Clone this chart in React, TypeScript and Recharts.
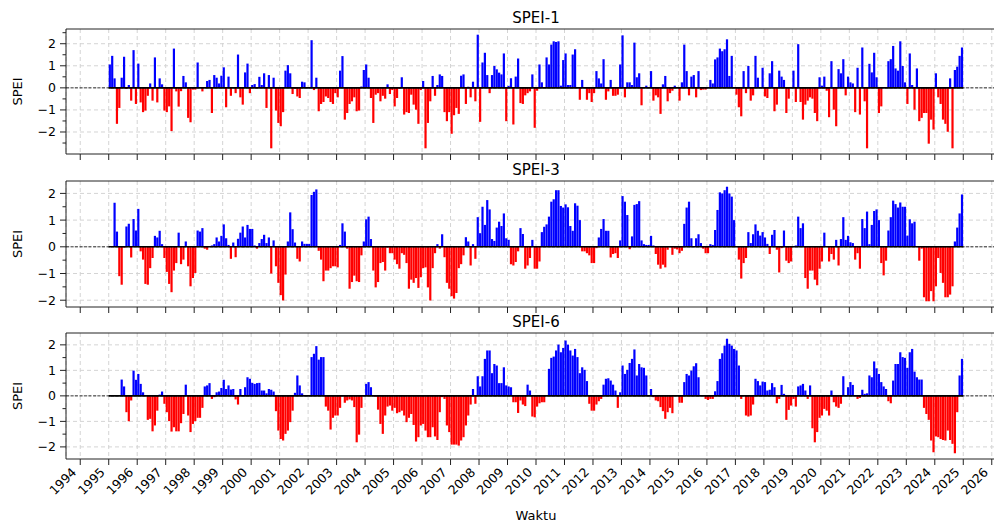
import React from "react";
import { BarChart, Bar, Cell, XAxis, YAxis, CartesianGrid, ReferenceLine, ReferenceArea } from "recharts";

// monthly SPEI values, Jan 1995 .. Dec 2024 (one row per year)
const START_YEAR = 1995;

const spei1: (number | null)[] = [
  1.06, 1.45, 0.43, -1.63, -0.91, 0.46, 1.41, -0.05, 0.13, -0.58, 1.71, -0.73,
  1.1, -0.66, -1.1, -1.03, -0.36, 0.2, -0.58, 1.38, -0.66, 0.43, 0.16, -1.03,
  -1.1, -0.84, -1.96, 1.78, -0.16, -0.85, -0.15, 0.54, 0.25, -1.36, -1.56, -0.08,
  -0.08, 1.15, 0.0, -0.16, 0.02, 0.31, 0.36, -1.14, 0.58, 0.46, 0.2, 0.55,
  0.93, -0.88, 0.51, -0.36, 0.02, -0.24, 1.51, -0.43, -0.76, 0.7, 1.1, -0.24,
  0.13, 0.17, -0.02, 0.5, 0.13, 0.66, -0.91, 0.58, -2.74, 0.46, -1.03, -1.59,
  -1.74, -1.1, 0.78, 1.03, 0.66, -0.28, -0.05, -0.39, -0.46, 0.28, 0.25, 0.02,
  0.03, 2.16, -0.1, 0.46, -1.06, -0.73, -0.64, -0.39, -0.46, -0.64, -0.73, -0.24,
  -0.43, 0.78, 1.44, -1.44, -1.14, -0.73, -0.61, -0.43, -1.06, -1.03, 0.06, 0.81,
  1.06, 0.46, -0.46, -1.59, -0.31, -0.24, -0.61, -0.36, -0.49, 0.16, -0.28, -0.1,
  -0.84, -0.46, -0.05, 0.48, -1.21, -1.1, -1.14, -0.31, -0.76, -0.99, -1.63, -0.1,
  0.31, -2.74, -1.59, -0.61, 0.54, -0.36, 0.13, 0.61, 0.54, -1.1, -1.51, -1.1,
  -2.08, -1.24, -0.91, -1.18, 0.55, 0.61, -0.73, 0.05, -0.43, 0.28, -0.61, 2.41,
  -1.54, 1.15, 1.59, 0.58, -0.24, 0.58, 0.99, 0.84, 0.69, 0.61, 1.56, -1.51,
  0.09, 0.43, -1.66, 0.51, 1.33, -0.69, -0.73, -0.34, -0.24, -0.16, 0.61, -1.81,
  -0.13, 1.06, 0.25, 0.02, 1.38, 1.06, 1.96, 2.11, 2.08, 2.11, 0.1, 1.26,
  1.56, 0.13, 0.13, 1.51, 1.75, 0.02, -0.54, 0.36, 0.02, -0.54, -0.24, -0.64,
  -0.24, 0.76, 0.43, 0.2, 1.3, -0.54, -0.16, 0.36, -0.36, -0.36, -0.31, 1.06,
  2.38, -0.43, 0.25, 0.25, 0.13, 2.05, 0.48, 0.66, -0.79, 0.02, 0.1, 0.02,
  0.76, -0.58, -0.34, -0.43, -1.18, 0.16, 0.54, -0.61, -0.24, -0.13, 0.1, 0.02,
  -0.58, 0.25, 1.96, 0.76, -0.34, 0.51, 0.58, -0.43, 0.76, -0.1, -0.08, -0.08,
  0.02, 0.36, 0.2, 1.29, 1.38, 1.78, 1.66, 1.75, 2.2, 0.54, 1.45, 0.02,
  -0.31, -0.88, -1.29, 0.76, -0.24, 0.99, -0.58, -0.34, 1.45, 0.46, 0.02, 0.91,
  -0.39, -0.46, 0.66, 1.21, -1.06, -0.76, 0.78, 0.51, 0.36, -1.14, -0.49, 0.02,
  0.78, -0.64, 1.98, -0.64, -1.44, -0.76, -0.58, -0.43, -0.49, -1.14, -1.51, 0.48,
  0.1, 0.51, -0.13, -1.33, 1.21, -0.99, -1.74, 0.85, 0.66, 1.3, -0.34, 0.51,
  0.25, 0.2, -1.1, 0.91, -1.21, 1.83, -0.61, -2.74, 1.09, 0.7, 1.59, 0.48,
  -1.14, -0.84, 0.02, 0.02, 1.21, 1.3, 1.9, 0.88, 0.78, 2.11, 0.99, 0.25,
  -0.73, 1.56, 0.13, -0.99, 0.88, -1.51, -1.36, -1.14, -1.14, -2.53, -1.44, -1.89,
  0.66, -0.43, -0.73, -1.44, -1.63, -1.99, 0.43, -2.74, 0.81, 0.96, 1.45, 1.83,
];

const spei3: (number | null)[] = [
  null, null, 1.65, 0.57, -1.1, -1.42, -0.03, 0.76, 0.86, -0.4, 1.04, 0.61,
  1.42, -0.17, -0.48, -1.39, -1.42, -0.8, -0.42, 0.41, 0.35, 0.6, 0.1, -0.42,
  -0.94, -1.39, -1.7, -0.89, -0.61, 0.53, -0.65, -0.48, 0.2, -0.73, -1.48, -1.17,
  -0.98, 0.61, 0.57, 0.7, -0.07, -0.11, 0.03, 0.05, 0.1, 0.35, 0.2, 0.41,
  0.84, 0.32, 0.07, -0.45, 0.16, -0.39, 0.3, 0.53, 0.76, 0.35, 0.82, 0.67,
  0.67, 0.05, -0.07, 0.14, 0.29, 0.45, 0.14, 0.35, -1.0, 0.24, -0.73, -1.35,
  -1.81, -2.01, -1.04, 0.2, 1.29, 0.66, 0.16, -0.45, -0.55, 0.2, 0.11, 0.11,
  0.11, 1.94, 2.06, 2.15, -0.15, -0.48, -1.29, -0.89, -0.89, -0.8, -0.73, -0.73,
  -0.77, 0.07, 0.88, 0.57, -0.07, -1.57, -1.32, -1.08, -1.29, -1.32, -0.32, 0.2,
  1.03, 1.13, 0.29, -0.89, -1.52, -1.32, -0.61, -0.57, -0.89, -0.03, -0.24, -0.24,
  -0.48, -0.65, -0.82, -0.24, -0.3, -0.61, -1.57, -1.23, -1.35, -1.17, -1.54, -1.14,
  -0.8, -0.77, -1.52, -2.01, -0.8, -0.24, 0.1, -0.07, 0.47, -0.39, -1.35, -1.57,
  -1.85, -1.94, -1.73, -0.8, -0.65, -0.32, 0.36, 0.2, -0.7, 0.1, -0.45, 1.11,
  0.51, 1.5, 0.82, 1.75, 1.4, 0.29, 0.22, 0.72, 0.94, 0.78, 1.25, 0.32,
  0.26, -0.65, -0.7, -0.57, -0.17, 0.7, 0.48, -0.82, -0.7, -0.42, 0.26, -0.82,
  -0.82, -0.55, 0.55, 0.75, 0.84, 1.13, 1.69, 1.78, 2.12, 2.12, 1.53, 1.47,
  1.59, 1.48, 0.78, 0.6, 1.63, 1.54, 1.0, -0.17, -0.17, -0.24, -0.32, -0.61,
  -0.61, -0.05, 0.35, 0.67, 1.04, 0.6, 0.6, -0.4, -0.27, -0.24, -0.42, 0.24,
  1.9, 1.69, 1.19, -0.09, 0.39, 1.57, 1.6, 1.71, 0.24, 0.1, 0.07, 0.07,
  0.41, 0.05, -0.27, -0.67, -0.82, -0.67, -0.77, -0.11, 0.03, -0.3, -0.07, -0.1,
  -0.24, -0.15, 0.86, 1.47, 1.69, 0.32, 0.03, 0.32, 0.47, 0.14, -0.07, -0.24,
  -0.24, 0.1, 0.07, 0.63, 1.38, 2.04, 2.0, 2.12, 2.25, 2.0, 1.88, 1.0,
  0.03, -0.48, -1.19, -0.61, -0.42, 0.55, 0.14, 0.47, 0.84, 0.6, 0.42, 0.55,
  0.35, 0.11, -0.27, 0.45, 0.63, -0.11, -0.96, -0.05, 0.61, -0.52, -0.61, -0.55,
  0.03, 0.05, 1.13, 0.7, 0.88, -1.17, -1.57, -0.89, -0.89, -1.23, -1.44, -0.82,
  -0.55, 0.53, 0.03, -0.55, -0.27, -0.48, 0.26, -0.7, 0.29, 1.11, 0.26, 0.41,
  0.17, 0.14, -0.48, -0.24, -0.82, 1.04, 0.7, 1.32, 0.1, 0.82, 1.34, 1.4,
  1.0, -0.61, -1.07, -0.52, 0.61, 1.11, 1.73, 1.6, 1.47, 1.66, 1.5, 1.5,
  0.42, 1.03, 0.88, 0.94, 0.03, -0.52, -0.07, -1.89, -2.04, -2.04, -1.66, -2.04,
  -1.48, -0.42, -0.98, -1.35, -1.89, -1.89, -1.79, -1.48, 0.2, 0.72, 1.25, 1.96,
];

const spei6: (number | null)[] = [
  null, null, null, null, null, 0.64, 0.37, -0.64, -0.99, -0.18, 0.99, 0.63,
  0.86, 0.47, 0.14, 0.03, -0.94, -0.9, -1.39, -1.16, -0.58, 0.05, 0.17, -0.31,
  -0.64, -0.99, -1.4, -1.23, -1.39, -1.39, -1.07, -0.71, 0.44, -0.77, -1.42, -1.1,
  -0.99, -0.86, -0.86, -0.47, 0.37, 0.41, 0.5, -0.12, -0.05, 0.14, 0.17, 0.31,
  0.63, 0.27, 0.41, 0.25, 0.27, -0.14, -0.34, 0.27, 0.03, 0.34, 0.73, 0.67,
  0.51, 0.47, 0.5, 0.51, 0.21, 0.21, 0.1, 0.27, 0.24, 0.17, -0.6, -1.36,
  -1.69, -1.75, -1.49, -1.36, -1.03, -0.58, 0.12, 0.8, 0.41, 0.1, 0.03, 0.03,
  0.03, 1.52, 1.65, 1.95, 1.42, 1.52, 1.52, -0.42, -0.58, -1.32, -0.86, -0.77,
  -0.77, -0.47, 0.03, -0.27, -0.18, -0.14, -0.18, -0.44, -1.82, -1.52, -0.47, 0.03,
  0.47, 0.54, 0.34, 0.03, -0.03, -0.54, -1.1, -1.49, -0.77, -0.42, -0.38, -0.58,
  -0.47, -0.68, -0.64, -0.58, -0.77, -1.03, -0.86, -0.71, -1.14, -1.79, -1.62, -1.16,
  -1.1, -1.36, -1.62, -1.62, -1.23, -1.59, -1.73, -0.64, -0.05, -0.12, -1.16, -1.42,
  -1.91, -1.91, -1.91, -1.95, -1.75, -1.62, -1.16, -0.77, -0.34, 0.27, -0.31, 0.77,
  0.37, 0.77, 1.45, 1.78, 1.78, 0.89, 1.25, 1.19, 0.5, 0.5, 1.12, 0.41,
  0.37, 0.34, -0.25, -0.25, -0.67, -0.18, -0.34, -0.4, 0.44, 0.21, -0.81, -0.84,
  -0.42, -0.29, -0.25, -0.25, 0.03, 1.06, 1.49, 1.54, 1.78, 2.01, 1.71, 1.88,
  2.17, 2.01, 1.78, 1.58, 1.84, 1.52, 0.89, 1.12, 1.02, 0.58, -0.31, -0.58,
  -0.58, -0.34, -0.21, -0.12, 0.44, 0.67, 0.69, 0.6, 0.44, 0.21, -0.47, 0.14,
  1.19, 0.86, 1.02, 1.29, 1.45, 1.82, 0.8, 1.25, 1.12, 1.1, 0.8, 0.03,
  0.27, -0.05, -0.18, -0.21, -0.44, -0.6, -0.9, -0.64, -0.47, -0.68, 0.03, 0.03,
  -0.27, -0.27, 0.54, 0.86, 0.8, 0.99, 1.16, 1.28, 0.73, 0.03, 0.03, -0.12,
  -0.16, -0.12, -0.12, 0.18, 0.58, 1.45, 1.67, 1.97, 2.24, 2.04, 1.97, 1.84,
  1.78, 1.19, -0.12, 0.03, -0.77, -0.81, -0.77, -0.34, 0.67, 0.58, 0.41, 0.56,
  0.54, 0.21, 0.24, 0.5, 0.34, -0.29, -0.12, 0.43, 0.08, -0.94, -0.55, -0.38,
  -0.12, -0.42, 0.37, 0.41, 0.47, 0.21, -0.12, 0.41, -1.27, -1.82, -1.42, -0.86,
  -0.77, -0.51, -0.58, -0.77, 0.21, -0.25, -0.42, -0.47, -0.31, 0.77, 0.03, 0.34,
  0.54, 0.43, 0.03, -0.12, -0.08, 0.24, 0.08, 0.1, 0.8, 0.73, 1.35, 1.08,
  0.86, 0.54, 0.37, 0.27, -0.21, -0.29, 0.6, 1.25, 1.25, 1.71, 1.52, 1.49,
  1.1, 1.71, 1.84, 0.95, 0.73, 0.64, 0.64, -0.47, -0.71, -0.94, -1.75, -2.21,
  -1.59, -1.62, -1.69, -1.73, -1.75, -1.36, -1.73, -1.88, -2.25, -0.64, 0.8, 1.45,
];

const yearTicks = [
  1994, 1995, 1996, 1997, 1998, 1999, 2000, 2001, 2002, 2003, 2004, 2005, 2006, 2007, 2008, 2009, 2010,
  2011, 2012, 2013, 2014, 2015, 2016, 2017, 2018, 2019, 2020, 2021, 2022, 2023, 2024, 2025, 2026,
];
const majorY = [-2, -1, 0, 1, 2];
const minorY = [-2.5, -2, -1.5, -1, -0.5, 0, 0.5, 1, 1.5, 2, 2.5];

const FIG_W = 994;
const FIG_H = 522;
const CHART_W = 1020; // right spine falls outside the picture, like the original
const PLOT_LEFT = 66;
const X_DOMAIN: [number, number] = [1993.5, 2026.5];
const FONT = "DejaVu Sans";
const SPINE = "#222";

const toRows = (values: (number | null)[]) =>
  values.map((v, i) => ({ t: START_YEAR + (i + 0.5) / 12, v }));

// matplotlib-like 5% margin around the data
function domainOf(values: (number | null)[]): [number, number] {
  const vals = values.filter((v): v is number => v !== null);
  const lo = Math.min(...vals);
  const hi = Math.max(...vals);
  const pad = (hi - lo) * 0.05;
  return [lo - pad, hi + pad];
}

const fmt = (v: number) => (v < 0 ? "\u2212" + Math.abs(v) : String(v));

function XTick(props: any) {
  const { x, y, payload, showLabel } = props;
  const lx = x - 3;
  const ly = y + 14;
  return (
    <g>
      <line x1={x} y1={y} x2={x} y2={y + 6} stroke={SPINE} strokeWidth={1} />
      {showLabel && (
        <text
          x={lx}
          y={ly}
          transform={`rotate(-45 ${lx} ${ly})`}
          textAnchor="end"
          fontSize={12.5}
          fontFamily={FONT}
          fill="#000"
        >
          {payload.value}
        </text>
      )}
    </g>
  );
}

function YTick(props: any) {
  const { x, y, payload } = props;
  const v = payload.value as number;
  const major = Math.abs(v - Math.round(v)) < 1e-9;
  return (
    <g>
      <line x1={x - (major ? 6 : 3.5)} y1={y} x2={x} y2={y} stroke={SPINE} strokeWidth={1} />
      {major && (
        <text x={x - 10} y={y} dy="0.36em" textAnchor="end" fontSize={12.5} fontFamily={FONT} fill="#000">
          {fmt(v)}
        </text>
      )}
    </g>
  );
}

interface PanelProps {
  values: (number | null)[];
  top: number;
  bottom: number;
  showLabels?: boolean;
}

function Panel({ values, top, bottom, showLabels }: PanelProps) {
  const rows = toRows(values);
  const dom = domainOf(values);
  const yTicks = minorY.filter((v) => v >= dom[0] && v <= dom[1]);
  const lineStart = START_YEAR;
  const lineEnd = START_YEAR + values.length / 12;

  return (
    <div style={{ position: "absolute", left: 0, top: 0 }}>
      <BarChart width={CHART_W} height={FIG_H} data={rows} margin={{ top, right: CHART_W - 1006, bottom: 0, left: 0 }}>
        <CartesianGrid stroke="#d4d4d4" strokeDasharray="4 3" horizontalValues={majorY} />
        <XAxis
          dataKey="t"
          type="number"
          domain={X_DOMAIN}
          ticks={yearTicks}
          interval={0}
          allowDataOverflow
          height={FIG_H - bottom}
          axisLine={false}
          tickLine={false}
          tickSize={0}
          tickMargin={0}
          tick={(p: any) => <XTick {...p} showLabel={showLabels} />}
        />
        <YAxis
          type="number"
          domain={dom}
          ticks={yTicks}
          interval={0}
          allowDataOverflow
          width={PLOT_LEFT}
          axisLine={false}
          tickLine={false}
          tickSize={0}
          tickMargin={0}
          tick={(p: any) => <YTick {...p} />}
        />
        <ReferenceLine y={0} stroke="#000" strokeWidth={0.8} strokeDasharray="3 1.5" />
        <Bar dataKey="v" barSize={2.2} isAnimationActive={false}>
          {rows.map((r, i) => (
            <Cell key={i} fill={r.v !== null && r.v >= 0 ? "#0000ff" : "#ff0000"} />
          ))}
        </Bar>
        <ReferenceLine
          segment={[
            { x: lineStart, y: 0 },
            { x: lineEnd, y: 0 },
          ]}
          stroke="#000"
          strokeWidth={1.6}
        />
        <ReferenceArea x1={X_DOMAIN[0]} x2={X_DOMAIN[1]} y1={dom[0]} y2={dom[1]} fill="none" stroke={SPINE} strokeWidth={1} />
      </BarChart>
    </div>
  );
}

const panels = [
  { title: "SPEI-1", values: spei1, top: 29, bottom: 154 },
  { title: "SPEI-3", values: spei3, top: 181, bottom: 307 },
  { title: "SPEI-6", values: spei6, top: 333, bottom: 459 },
];

export default function App() {
  const center = (PLOT_LEFT + 1006) / 2;
  return (
    <div
      style={{
        position: "absolute",
        left: 0,
        top: 0,
        width: FIG_W,
        height: FIG_H,
        overflow: "hidden",
        background: "#fff",
      }}
    >
      {panels.map((p, i) => (
        <Panel key={p.title} values={p.values} top={p.top} bottom={p.bottom} showLabels={i === panels.length - 1} />
      ))}
      <svg width={FIG_W} height={FIG_H} style={{ position: "absolute", left: 0, top: 0, pointerEvents: "none" }}>
        {panels.map((p) => {
          const mid = (p.top + p.bottom) / 2;
          return (
            <g key={p.title}>
              <text x={center} y={p.top - 6} textAnchor="middle" fontSize={15} fontFamily={FONT} fill="#000">
                {p.title}
              </text>
              <text
                x={22}
                y={mid}
                transform={`rotate(-90 22 ${mid})`}
                textAnchor="middle"
                fontSize={13}
                fontFamily={FONT}
                fill="#000"
              >
                SPEI
              </text>
            </g>
          );
        })}
        <text x={center} y={520} textAnchor="middle" fontSize={13} fontFamily={FONT} fill="#000">
          Waktu
        </text>
      </svg>
    </div>
  );
}
